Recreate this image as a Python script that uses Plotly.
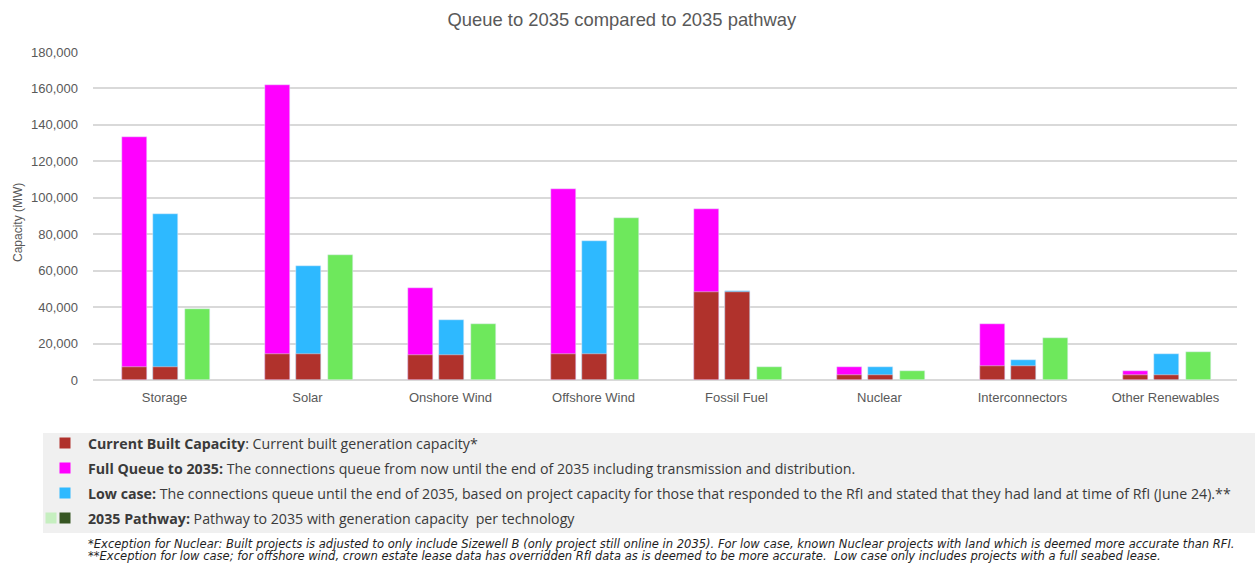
import plotly.graph_objects as go

# Technologies and capacities (MW)
categories = ["Storage", "Solar", "Onshore Wind", "Offshore Wind", "Fossil Fuel",
              "Nuclear", "Interconnectors", "Other Renewables"]
built_capacity = [7000, 14500, 13500, 14000, 48500, 3000, 7800, 3000]
full_queue_2035 = [133500, 162000, 50500, 105000, 93800, 6900, 31000, 4700]
low_case = [91000, 62500, 33000, 76500, 49000, 6900, 11100, 14500]
pathway_2035 = [39000, 68800, 31000, 89000, 7200, 4700, 23300, 15500]

y_ticks = [0, 20000, 40000, 60000, 80000, 100000, 120000, 140000, 160000, 180000]

# Figure geometry in pixels
W, H = 1255, 564
L, R, T, B = 93, 18, 52, 184
PW, PH = W - L - R, H - T - B


def px_x(x):
    return (x - L) / PW


def px_y(y):
    return (H - B - y) / PH


C_BUILT = "#b0322c"
C_QUEUE = "#ff00ff"
C_LOW = "#2eb9ff"
C_PATH = "#6ee85c"

BAR_W = 0.175
OFF_Q, OFF_L, OFF_P = -0.30, -0.08, 0.14

fig = go.Figure()
fig.add_trace(go.Bar(x=categories, y=full_queue_2035, name="Full Queue to 2035",
                     marker_color=C_QUEUE, width=BAR_W, offset=OFF_Q, showlegend=False))
fig.add_trace(go.Bar(x=categories, y=low_case, name="Low case",
                     marker_color=C_LOW, width=BAR_W, offset=OFF_L, showlegend=False))
fig.add_trace(go.Bar(x=categories, y=pathway_2035, name="2035 Pathway",
                     marker_color=C_PATH, width=BAR_W, offset=OFF_P, showlegend=False))
fig.add_trace(go.Bar(x=categories, y=built_capacity, name="Current Built Capacity",
                     marker_color=C_BUILT, width=BAR_W, offset=OFF_Q, showlegend=False))
fig.add_trace(go.Bar(x=categories, y=built_capacity, name="Current Built Capacity",
                     marker_color=C_BUILT, width=BAR_W, offset=OFF_L, showlegend=False))

axis_font = dict(family="Liberation Sans, Arial, sans-serif", size=13, color="#595959")

fig.update_layout(
    width=W, height=H,
    margin=dict(l=L, r=R, t=T, b=B, pad=0),
    barmode="overlay",
    bargap=0,
    plot_bgcolor="white",
    paper_bgcolor="white",
    title=dict(text="Queue to 2035 compared to 2035 pathway",
               x=0.4955, xanchor="center", y=1 - 20 / H, yanchor="middle",
               yref="container",
               font=dict(family="Liberation Sans, Arial, sans-serif", size=18.4, color="#595959")),
    xaxis=dict(type="category", range=[-0.5, len(categories) - 0.5],
               showgrid=False, showline=False, zeroline=False,
               tickfont=axis_font, ticks="", ticklabelstandoff=8),
    yaxis=dict(range=[0, 180000], tickvals=y_ticks, tickformat=",",
               showgrid=True, gridcolor="#d9d9d9", gridwidth=1.5,
               zeroline=True, zerolinecolor="#d9d9d9", zerolinewidth=1.5,
               showline=False, ticks="", tickfont=axis_font, ticklabelstandoff=14),
    showlegend=False,
)

shapes = []
annotations = []

# Y axis title
annotations.append(dict(text="Capacity (MW)", x=px_x(18), y=px_y(223), xref="paper", yref="paper",
                        textangle=-90, showarrow=False, xanchor="center", yanchor="middle",
                        font=dict(family="Liberation Sans, Arial, sans-serif", size=12, color="#595959")))

# Key panel
shapes.append(dict(type="rect", xref="paper", yref="paper",
                   x0=px_x(43), x1=px_x(W), y0=px_y(433), y1=px_y(533),
                   fillcolor="#f0f0f0", line=dict(width=0), layer="below"))

key_font = dict(family="Open Sans, sans-serif", size=14.2, color="#3a3a3a")
key_rows = [
    ([C_BUILT], "<b>Current Built Capacity</b>: Current built generation capacity*"),
    ([C_QUEUE], "<b>Full Queue to 2035:</b> The connections queue from now until the end of 2035 including transmission and distribution."),
    ([C_LOW], "<b>Low case:</b> The connections queue until the end of 2035, based on project capacity for those that responded to the RfI and stated that they had land at time of RfI (June 24).**"),
    (["#c6efc0", "#375623"], "<b>2035 Pathway:</b> Pathway to 2035 with generation capacity  per technology"),
]
row_y = [443, 468, 493, 518]
for (colors, text), yc in zip(key_rows, row_y):
    sq_x = [65] if len(colors) == 1 else [51, 65]
    for cx, col in zip(sq_x, colors):
        shapes.append(dict(type="rect", xref="paper", yref="paper",
                           x0=px_x(cx - 5.5), x1=px_x(cx + 5.5),
                           y0=px_y(yc + 5.5), y1=px_y(yc - 5.5),
                           fillcolor=col, line=dict(width=0)))
    annotations.append(dict(text=text, x=px_x(86), y=px_y(yc), xref="paper", yref="paper",
                            showarrow=False, xanchor="left", yanchor="middle", align="left",
                            font=key_font))

note_font = dict(family="DejaVu Sans, sans-serif", size=11.55, color="#1e1e1e")
notes = [
    "<i>*Exception for Nuclear: Built projects is adjusted to only include Sizewell B (only project still online in 2035). For low case, known Nuclear projects with land which is deemed more accurate than RFI.</i>",
    "<i>**Exception for low case; for offshore wind, crown estate lease data has overridden RfI data as is deemed to be more accurate.  Low case only includes projects with a full seabed lease.</i>",
]
for text, yc in zip(notes, [544, 556]):
    annotations.append(dict(text=text, x=px_x(86), y=px_y(yc), xref="paper", yref="paper",
                            showarrow=False, xanchor="left", yanchor="middle", align="left",
                            font=note_font))

fig.update_layout(shapes=shapes, annotations=annotations)

fig.write_html("out.html")
